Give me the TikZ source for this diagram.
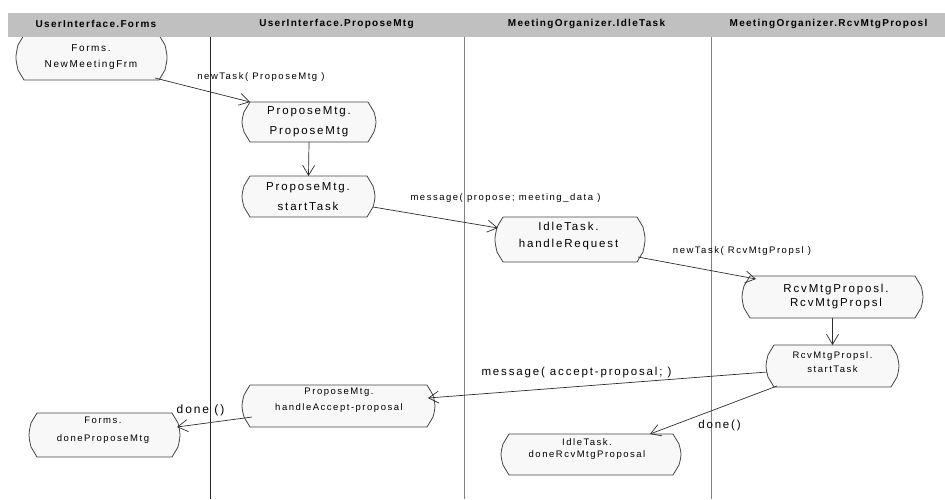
\documentclass[tikz,border=0pt]{standalone}
\usepackage{fontspec}
\setmainfont{Liberation Sans}
\newfontfamily\spacedfont{Liberation Sans}[LetterSpace=16]
\newfontfamily\headfont{Liberation Sans}[LetterSpace=13]
\usetikzlibrary{arrows.meta}

\definecolor{bandgray}{RGB}{192,192,192}
\definecolor{boxfill}{RGB}{248,248,248}
\definecolor{edgegray}{RGB}{70,70,70}
\definecolor{linkgray}{RGB}{45,45,45}
\definecolor{lanedark}{RGB}{40,40,40}
\definecolor{lanegray}{RGB}{130,130,130}

% action-state outline: flat top and bottom, chamfered corners, bulging sides
\newcommand\actoutline[1]{%
  \draw[actline]
    ([xshift=8pt]#1.north west) -- ([xshift=-8pt]#1.north east)
    -- ([xshift=-2pt,yshift=-10pt]#1.north east)
    .. controls ([xshift=0.7pt]#1.east) .. ([xshift=-2pt,yshift=10pt]#1.south east)
    -- ([xshift=-8pt]#1.south east) -- ([xshift=8pt]#1.south west)
    -- ([xshift=2pt,yshift=10pt]#1.south west)
    .. controls ([xshift=-0.7pt]#1.west) .. ([xshift=2pt,yshift=-10pt]#1.north west)
    -- cycle;}

\begin{document}
\begin{tikzpicture}[x=1pt,y=-1pt,
  actbox/.style={rectangle, inner sep=0pt, outer sep=0pt},
  actline/.style={draw=edgegray, fill=boxfill, line width=0.8pt, line join=round},
  acttext/.style={align=center, inner sep=0pt, text=black},
  txtsmall/.style={font={\spacedfont\fontsize{9.5}{#1}\selectfont}},
  txtmid/.style={font={\spacedfont\fontsize{10}{#1}\selectfont}},
  txtbig/.style={font={\spacedfont\fontsize{11.5}{#1}\selectfont}},
  msg/.style={inner sep=0pt, text=black},
  link/.style={draw=linkgray, line width=0.7pt,
    -{Straight Barb[length=10pt, width=12pt, line width=0.7pt]}},
  lanetitle/.style={inner sep=0pt, text=black,
    font={\headfont\bfseries\fontsize{10}{12}\selectfont}}
]
\useasboundingbox (0,0) rectangle (945,499);

% swimlane separators
\draw[lanedark, line width=0.9pt] (210,37) -- (210,499);
\draw[lanegray, line width=0.9pt] (464,37) -- (464,499);
\draw[lanegray, line width=0.9pt] (711,37) -- (711,499);

% action states (geometry)
\node[actbox, minimum width=151, minimum height=45] (newmtg)    at (91.5,57.5)  {};
\node[actbox, minimum width=134, minimum height=40] (pmtg)      at (309,122)    {};
\node[actbox, minimum width=133, minimum height=41] (pstart)    at (308.5,196.5){};
\node[actbox, minimum width=150, minimum height=45] (idlereq)   at (570,239.5)  {};
\node[actbox, minimum width=181, minimum height=42] (rcvprops)  at (832.5,297)  {};
\node[actbox, minimum width=133, minimum height=42] (rcvstart)  at (832.5,366)  {};
\node[actbox, minimum width=193, minimum height=42] (paccept)   at (338.5,406)  {};
\node[actbox, minimum width=151, minimum height=44] (formsdone) at (104.5,435)  {};
\node[actbox, minimum width=180, minimum height=41] (idledone)  at (591,454.5)  {};

\foreach \n in {newmtg,pmtg,pstart,idlereq,rcvprops,rcvstart,paccept,formsdone,idledone}
  {\actoutline{\n}}

% action state names
\node[acttext, txtmid=16]   (newmtg-t)    at (91,57)      {Forms.\\NewMeetingFrm};
\node[acttext, txtbig=20]   (pmtg-t)      at (309,122)    {ProposeMtg.\\ProposeMtg};
\node[acttext, txtbig=20]   (pstart-t)    at (308,197)    {ProposeMtg.\\startTask};
\node[acttext, txtbig=17]   (idlereq-t)   at (568.5,236.5){IdleTask.\\handleRequest};
\node[acttext, txtbig=14]   (rcvprops-t)  at (836,296.5)  {RcvMtgProposl.\\RcvMtgPropsl};
\node[acttext, txtsmall=14] (rcvstart-t)  at (832.5,362)  {RcvMtgPropsl.\\startTask};
\node[acttext, txtsmall=16] (paccept-t)   at (339,400)    {ProposeMtg.\\handleAccept-proposal};
\node[acttext, txtsmall=18] (formsdone-t) at (103,430)    {Forms.\\doneProposeMtg};
\node[acttext, txtsmall=12] (idledone-t)  at (587,449)    {IdleTask.\\doneRcvMtgProposal};

% transitions
\draw[link] ([xshift=-12pt,yshift=2pt]newmtg.south east) -- ([xshift=8pt]pmtg.north west);
\draw[link] (pmtg.south) -- (pstart.north);
\draw[link] ([xshift=-2pt,yshift=-10.5pt]pstart.east) -- ([xshift=3pt,yshift=11.5pt]idlereq.west);
\draw[link] ([xshift=-7pt,yshift=5pt]idlereq.south east) -- ([xshift=14pt,yshift=-3pt]rcvprops.north west);
\draw[link] (rcvprops.south) -- (rcvstart.north);
\draw[link] ([xshift=1pt,yshift=-6pt]rcvstart.west) -- ([xshift=-7pt,yshift=8pt]paccept.east);
\draw[link] ([xshift=11pt,yshift=1pt]rcvstart.south west) -- ([xshift=-31pt]idledone.north east);
\draw[link] ([xshift=10pt,yshift=-11pt]paccept.west) -- ([xshift=-3pt,yshift=8pt]formsdone.east);

% transition labels
\node[msg, txtsmall=12] (lbl-newtask1) at (261,77)    {newTask( ProposeMtg )};
\node[msg, txtsmall=12] (lbl-propose)  at (505.5,198) {message( propose; meeting\_data )};
\node[msg, txtsmall=12] (lbl-newtask2) at (742,251)   {newTask( RcvMtgPropsl )};
\node[msg, txtbig=14]   (lbl-accept)   at (576.5,373) {message( accept-proposal; )};
\node[msg, txtbig=14]   (lbl-done1)    at (719.5,426) {done()};
\node[msg, font={\spacedfont\fontsize{12}{14}\selectfont}] (lbl-done2) at (200.5,410) {done ()};

% swimlane header band
\fill[bandgray] (8,13) rectangle (945,37);
\node[lanetitle] (lane1) at (96,24)    {UserInterface.Forms};
\node[lanetitle] (lane2) at (336.5,24) {UserInterface.ProposeMtg};
\node[lanetitle] (lane3) at (586.5,24) {MeetingOrganizer.IdleTask};
\node[lanetitle] (lane4) at (828.5,24) {MeetingOrganizer.RcvMtgProposl};
\end{tikzpicture}
\end{document}
